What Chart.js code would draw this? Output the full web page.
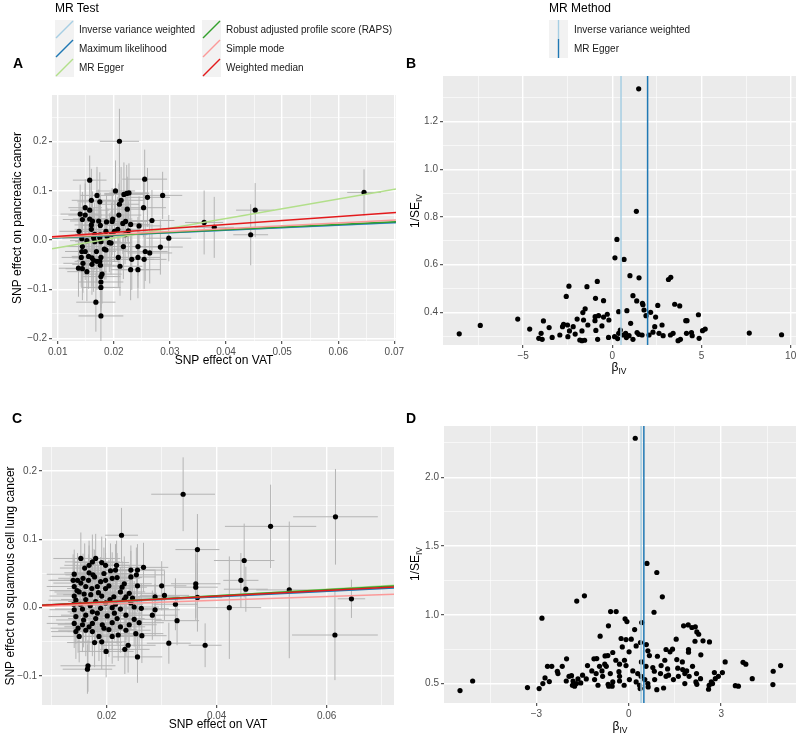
<!DOCTYPE html>
<html>
<head>
<meta charset="utf-8">
<script src="https://cdn.jsdelivr.net/npm/chart.js@4.4.1/dist/chart.umd.min.js"></script>
<style>
  body { margin: 0; background: #fff; font-family: "Liberation Sans", Arial, sans-serif; }
  #wrap { position: relative; width: 800px; height: 735px; overflow: hidden; }
  #wrap canvas { position: absolute; left: 0; top: 0; }
  .abs { position: absolute; white-space: nowrap; }
  .panel { font-weight: bold; font-size: 14px; line-height: 14px; }
  .lgTitle { font-size: 12px; line-height: 14px; color: #000; }
  .lgText { font-size: 10px; line-height: 19px; color: #1a1a1a; }
  .axTitle { font-size: 12px; color: #000; }
  .axTitle span { font-size: 8.5px; position: relative; top: 3px; }
  .rot { transform: translate(-50%, -50%) rotate(-90deg); }
  .ctr { transform: translate(-50%, -50%); }
</style>
</head>
<body>
<div id="wrap">
  <canvas id="cA" width="800" height="735"></canvas>
  <canvas id="cB" width="800" height="735"></canvas>
  <canvas id="cC" width="800" height="735"></canvas>
  <canvas id="cD" width="800" height="735"></canvas>
</div>
<script>
// MR methods shown in the scatter plots (legend order) and their colours
const methods = ['Inverse variance weighted', 'Maximum likelihood', 'MR Egger',
  'Robust adjusted profile score (RAPS)', 'Simple mode', 'Weighted median'];
const methodColors = ['#A6CEE3', '#1F78B4', '#B2DF8A', '#33A02C', '#FB9A99', '#E31A1C'];
const funnelMethods = ['Inverse variance weighted', 'MR Egger'];
const funnelColors = ['#A6CEE3', '#1F78B4'];

// A: slopes / intercepts of the fitted lines (pancreatic cancer)
const aSlope = [0.50, 0.51, 1.98, 0.53, 0.58, 0.80];
const aIntercept = [0, 0, -0.035, 0, 0, 0];
// C: slopes / intercepts (squamous cell lung cancer)
const cSlope = [0.41, 0.40, 0.48, 0.44, 0.27, 0.42];
const cIntercept = [0, 0, -0.002, 0, 0, 0];
// B / D: vertical estimate lines (IVW, MR Egger)
const bLines = [0.49, 1.98];
const dLines = [0.40, 0.49];

// A: [SNP effect on VAT, SNP effect on pancreatic cancer, se x, se y]
const aSnps = [
  [0.0210, 0.201, 0.0035, 0.066], [0.0157, 0.122, 0.0030, 0.050], [0.0255, 0.124, 0.0040, 0.060],
  [0.0203, 0.100, 0.0035, 0.062], [0.0170, 0.091, 0.0030, 0.058], [0.0160, 0.081, 0.0035, 0.064],
  [0.0175, 0.078, 0.0040, 0.060], [0.0218, 0.093, 0.0035, 0.065], [0.0223, 0.095, 0.0040, 0.058],
  [0.0227, 0.096, 0.0035, 0.060], [0.0213, 0.081, 0.0040, 0.068], [0.0210, 0.073, 0.0035, 0.062],
  [0.0260, 0.087, 0.0040, 0.060], [0.0287, 0.091, 0.0035, 0.048], [0.0253, 0.066, 0.0040, 0.060],
  [0.0224, 0.063, 0.0035, 0.066], [0.0149, 0.066, 0.0030, 0.058], [0.0157, 0.061, 0.0035, 0.062],
  [0.0140, 0.053, 0.0035, 0.060], [0.0149, 0.051, 0.0030, 0.064], [0.0144, 0.042, 0.0035, 0.056],
  [0.0157, 0.043, 0.0030, 0.066], [0.0162, 0.039, 0.0040, 0.060], [0.0173, 0.039, 0.0035, 0.064],
  [0.0187, 0.037, 0.0035, 0.058], [0.0197, 0.038, 0.0040, 0.068], [0.0198, 0.043, 0.0035, 0.060],
  [0.0209, 0.051, 0.0040, 0.064], [0.0216, 0.034, 0.0035, 0.062], [0.0221, 0.038, 0.0040, 0.058],
  [0.0230, 0.032, 0.0035, 0.066], [0.0245, 0.029, 0.0040, 0.060], [0.0268, 0.040, 0.0040, 0.062],
  [0.0160, 0.031, 0.0030, 0.060], [0.0176, 0.030, 0.0035, 0.066], [0.0138, 0.018, 0.0035, 0.058],
  [0.0160, 0.022, 0.0030, 0.064], [0.0186, 0.018, 0.0040, 0.060], [0.0201, 0.018, 0.0035, 0.062],
  [0.0207, 0.022, 0.0040, 0.066], [0.0226, 0.019, 0.0035, 0.060], [0.0166, 0.012, 0.0035, 0.064],
  [0.0176, 0.011, 0.0030, 0.058], [0.0143, 0.003, 0.0035, 0.062], [0.0164, 0.005, 0.0030, 0.060],
  [0.0175, 0.005, 0.0035, 0.066], [0.0188, 0.008, 0.0040, 0.058], [0.0196, 0.012, 0.0035, 0.064],
  [0.0220, 0.011, 0.0040, 0.060], [0.0298, 0.004, 0.0040, 0.047], [0.0152, -0.001, 0.0030, 0.062],
  [0.0166, -0.003, 0.0035, 0.058], [0.0177, -0.003, 0.0035, 0.066], [0.0192, -0.005, 0.0040, 0.060],
  [0.0195, -0.006, 0.0035, 0.064], [0.0144, -0.013, 0.0035, 0.058], [0.0183, -0.018, 0.0035, 0.062],
  [0.0186, -0.020, 0.0040, 0.060], [0.0217, -0.013, 0.0035, 0.066], [0.0243, -0.013, 0.0040, 0.060],
  [0.0283, -0.014, 0.0040, 0.056], [0.0143, -0.023, 0.0030, 0.062], [0.0149, -0.023, 0.0035, 0.058],
  [0.0169, -0.023, 0.0035, 0.064], [0.0256, -0.023, 0.0040, 0.060], [0.0264, -0.026, 0.0040, 0.062],
  [0.0142, -0.035, 0.0035, 0.060], [0.0155, -0.033, 0.0030, 0.066], [0.0161, -0.036, 0.0035, 0.058],
  [0.0177, -0.035, 0.0040, 0.064], [0.0208, -0.035, 0.0035, 0.060], [0.0243, -0.035, 0.0040, 0.062],
  [0.0145, -0.047, 0.0035, 0.060], [0.0164, -0.041, 0.0030, 0.064], [0.0175, -0.043, 0.0035, 0.058],
  [0.0232, -0.039, 0.0040, 0.062], [0.0254, -0.039, 0.0040, 0.060], [0.0137, -0.057, 0.0035, 0.058],
  [0.0144, -0.058, 0.0030, 0.064], [0.0152, -0.064, 0.0035, 0.060], [0.0161, -0.049, 0.0035, 0.062],
  [0.0170, -0.043, 0.0040, 0.058], [0.0176, -0.051, 0.0035, 0.066], [0.0211, -0.053, 0.0040, 0.060],
  [0.0230, -0.060, 0.0035, 0.062], [0.0243, -0.060, 0.0040, 0.058], [0.0179, -0.069, 0.0035, 0.060],
  [0.0177, -0.074, 0.0035, 0.064], [0.0177, -0.085, 0.0040, 0.058], [0.0177, -0.096, 0.0035, 0.060],
  [0.0168, -0.126, 0.0035, 0.060], [0.0177, -0.154, 0.0040, 0.058], [0.0361, 0.036, 0.0034, 0.065],
  [0.0379, 0.026, 0.0035, 0.062], [0.0444, 0.011, 0.0031, 0.062], [0.0452, 0.061, 0.0034, 0.055],
  [0.0646, 0.097, 0.0030, 0.047]
];

// C: [SNP effect on VAT, SNP effect on squamous cell lung cancer, se x, se y]
const cSnps = [
  [0.0227, 0.106, 0.0030, 0.040], [0.0153, 0.072, 0.0050, 0.038], [0.0168, 0.062, 0.0045, 0.036],
  [0.0174, 0.067, 0.0050, 0.040], [0.0180, 0.072, 0.0045, 0.036], [0.0191, 0.066, 0.0050, 0.038],
  [0.0198, 0.062, 0.0045, 0.040], [0.0218, 0.062, 0.0050, 0.036], [0.0216, 0.055, 0.0045, 0.038],
  [0.0207, 0.054, 0.0050, 0.040], [0.0244, 0.055, 0.0045, 0.036], [0.0256, 0.055, 0.0050, 0.038],
  [0.0267, 0.059, 0.0045, 0.036], [0.0254, 0.048, 0.0050, 0.040], [0.0244, 0.045, 0.0045, 0.038],
  [0.0141, 0.049, 0.0050, 0.036], [0.0168, 0.051, 0.0045, 0.040], [0.0175, 0.048, 0.0050, 0.038],
  [0.0157, 0.043, 0.0045, 0.036], [0.0147, 0.040, 0.0050, 0.040], [0.0139, 0.040, 0.0045, 0.038],
  [0.0189, 0.038, 0.0050, 0.036], [0.0198, 0.040, 0.0045, 0.040], [0.0210, 0.043, 0.0050, 0.038],
  [0.0219, 0.044, 0.0045, 0.036], [0.0232, 0.035, 0.0050, 0.040], [0.0256, 0.032, 0.0045, 0.038],
  [0.0300, 0.032, 0.0045, 0.036], [0.0153, 0.036, 0.0050, 0.038], [0.0162, 0.031, 0.0045, 0.036],
  [0.0141, 0.031, 0.0050, 0.040], [0.0173, 0.028, 0.0045, 0.038], [0.0183, 0.031, 0.0050, 0.036],
  [0.0198, 0.028, 0.0045, 0.040], [0.0204, 0.032, 0.0050, 0.038], [0.0225, 0.023, 0.0045, 0.036],
  [0.0241, 0.021, 0.0050, 0.040], [0.0150, 0.023, 0.0045, 0.038], [0.0159, 0.020, 0.0050, 0.036],
  [0.0141, 0.017, 0.0045, 0.040], [0.0171, 0.019, 0.0050, 0.038], [0.0191, 0.017, 0.0045, 0.036],
  [0.0213, 0.016, 0.0050, 0.040], [0.0235, 0.016, 0.0045, 0.038], [0.0247, 0.014, 0.0050, 0.036],
  [0.0288, 0.016, 0.0045, 0.038], [0.0305, 0.018, 0.0045, 0.036], [0.0144, 0.011, 0.0050, 0.040],
  [0.0162, 0.012, 0.0045, 0.038], [0.0180, 0.009, 0.0050, 0.036], [0.0198, 0.007, 0.0045, 0.040],
  [0.0216, 0.005, 0.0050, 0.038], [0.0232, 0.012, 0.0045, 0.036], [0.0244, 0.007, 0.0050, 0.040],
  [0.0325, 0.005, 0.0040, 0.038], [0.0141, -0.003, 0.0045, 0.038], [0.0156, -0.002, 0.0050, 0.036],
  [0.0174, -0.006, 0.0045, 0.040], [0.0189, -0.001, 0.0050, 0.038], [0.0210, 0.000, 0.0045, 0.036],
  [0.0225, -0.002, 0.0050, 0.040], [0.0250, 0.001, 0.0045, 0.038], [0.0263, -0.001, 0.0050, 0.036],
  [0.0288, -0.003, 0.0045, 0.038], [0.0283, -0.011, 0.0045, 0.036], [0.0144, -0.013, 0.0050, 0.040],
  [0.0162, -0.011, 0.0045, 0.038], [0.0180, -0.016, 0.0050, 0.036], [0.0201, -0.012, 0.0045, 0.040],
  [0.0219, -0.016, 0.0050, 0.038], [0.0235, -0.011, 0.0045, 0.036], [0.0250, -0.017, 0.0050, 0.040],
  [0.0259, -0.022, 0.0045, 0.038], [0.0328, -0.019, 0.0040, 0.036], [0.0141, -0.023, 0.0050, 0.036],
  [0.0156, -0.025, 0.0045, 0.040], [0.0174, -0.023, 0.0050, 0.038], [0.0192, -0.025, 0.0045, 0.036],
  [0.0210, -0.022, 0.0050, 0.040], [0.0225, -0.028, 0.0045, 0.038], [0.0241, -0.025, 0.0050, 0.036],
  [0.0144, -0.035, 0.0045, 0.040], [0.0162, -0.033, 0.0050, 0.038], [0.0174, -0.035, 0.0045, 0.036],
  [0.0204, -0.032, 0.0050, 0.040], [0.0235, -0.033, 0.0045, 0.038], [0.0253, -0.038, 0.0050, 0.036],
  [0.0264, -0.041, 0.0045, 0.040], [0.0150, -0.042, 0.0050, 0.038], [0.0186, -0.042, 0.0045, 0.036],
  [0.0210, -0.042, 0.0050, 0.040], [0.0221, -0.040, 0.0045, 0.038], [0.0178, -0.051, 0.0050, 0.036],
  [0.0191, -0.050, 0.0045, 0.040], [0.0199, -0.064, 0.0050, 0.038], [0.0233, -0.061, 0.0045, 0.036],
  [0.0239, -0.055, 0.0050, 0.040], [0.0256, -0.072, 0.0045, 0.038], [0.0313, -0.052, 0.0040, 0.030],
  [0.0166, -0.085, 0.0050, 0.038], [0.0165, -0.090, 0.0045, 0.036], [0.0146, 0.025, 0.0050, 0.038],
  [0.0152, 0.005, 0.0045, 0.036], [0.0158, -0.018, 0.0050, 0.040], [0.0167, 0.040, 0.0045, 0.038],
  [0.0170, 0.003, 0.0050, 0.036], [0.0185, 0.022, 0.0045, 0.040], [0.0195, -0.030, 0.0050, 0.038],
  [0.0168, -0.028, 0.0045, 0.036], [0.0183, -0.008, 0.0050, 0.040], [0.0206, 0.012, 0.0045, 0.038],
  [0.0148, -0.030, 0.0050, 0.036], [0.0178, 0.045, 0.0045, 0.040], [0.0195, 0.050, 0.0050, 0.038],
  [0.0160, 0.058, 0.0045, 0.036], [0.0214, -0.008, 0.0050, 0.040], [0.0228, 0.030, 0.0045, 0.038],
  [0.0140, 0.005, 0.0050, 0.036],
  [0.0339, 0.166, 0.0058, 0.054], [0.0365, 0.085, 0.0040, 0.052], [0.0362, 0.035, 0.0045, 0.050],
  [0.0362, 0.030, 0.0040, 0.048], [0.0365, 0.015, 0.0045, 0.050], [0.0379, -0.055, 0.0030, 0.032],
  [0.0423, 0.000, 0.0058, 0.075], [0.0444, 0.040, 0.0032, 0.040], [0.0450, 0.069, 0.0055, 0.054],
  [0.0453, 0.027, 0.0040, 0.033], [0.0498, 0.119, 0.0083, 0.061], [0.0532, 0.026, 0.0060, 0.100],
  [0.0616, 0.133, 0.0077, 0.070], [0.0615, -0.040, 0.0078, 0.066], [0.0645, 0.013, 0.0025, 0.028]
];

// B: [beta IV, 1/SE IV] (pancreatic cancer)
const bFunnel = [
  [1.48, 1.338], [1.35, 0.824], [0.26, 0.706], [0.15, 0.629], [0.66, 0.622], [0.99, 0.554],
  [1.50, 0.545], [-0.84, 0.530], [-2.43, 0.510], [-1.42, 0.508], [3.15, 0.538], [3.28, 0.547],
  [-2.58, 0.467], [-0.94, 0.459], [-0.49, 0.449], [1.16, 0.470], [1.37, 0.448], [1.69, 0.438],
  [1.72, 0.432], [2.55, 0.429], [3.50, 0.434], [3.78, 0.427], [1.78, 0.410], [0.82, 0.407],
  [0.36, 0.403], [1.89, 0.386], [2.15, 0.400], [2.43, 0.380], [-1.52, 0.415], [-1.65, 0.399],
  [-0.28, 0.392], [-0.77, 0.386], [-0.96, 0.382], [-0.49, 0.380], [-0.19, 0.368], [-0.97, 0.365],
  [-1.61, 0.368], [-1.97, 0.372], [-1.37, 0.347], [-2.73, 0.350], [-2.79, 0.340], [-2.51, 0.347],
  [-2.19, 0.340], [-3.86, 0.364], [-5.30, 0.372], [-7.40, 0.345], [-8.58, 0.310], [-4.63, 0.330],
  [-3.54, 0.336], [-3.37, 0.295], [-3.99, 0.312], [-2.94, 0.305], [-4.12, 0.291], [-3.93, 0.287],
  [-2.49, 0.298], [-2.40, 0.322], [-2.08, 0.309], [-1.70, 0.322], [-1.70, 0.281], [-1.55, 0.283],
  [-1.82, 0.284], [-0.82, 0.287], [-0.92, 0.324], [-0.58, 0.343], [-0.21, 0.295], [0.13, 0.298],
  [0.30, 0.290], [0.36, 0.312], [0.45, 0.326], [0.60, 0.305], [0.75, 0.312], [0.79, 0.294],
  [0.94, 0.302], [1.16, 0.287], [1.03, 0.354], [1.39, 0.315], [1.67, 0.305], [2.06, 0.305],
  [2.28, 0.317], [2.38, 0.340], [2.79, 0.347], [2.62, 0.312], [2.85, 0.302], [3.26, 0.305],
  [3.41, 0.312], [3.69, 0.281], [3.82, 0.287], [4.12, 0.365], [4.19, 0.365], [4.16, 0.312],
  [4.44, 0.315], [4.48, 0.302], [4.83, 0.390], [4.87, 0.291], [5.06, 0.323], [5.21, 0.330],
  [7.68, 0.313], [9.49, 0.306], [1.48, 0.308]
];

// D: [beta IV, 1/SE IV] (squamous cell lung cancer)
const dFunnel = [
  [0.21, 2.284], [0.59, 1.374], [0.91, 1.308], [1.09, 1.131], [-1.44, 1.138], [-1.69, 1.100],
  [0.82, 1.019], [-0.59, 1.024], [-0.41, 1.024], [-2.82, 0.976], [-0.12, 0.971], [-0.06, 0.951],
  [0.42, 0.944], [-0.66, 0.920], [1.78, 0.920], [1.93, 0.927], [2.05, 0.908], [2.16, 0.913],
  [0.19, 0.893], [2.21, 0.876], [2.27, 0.859], [-0.93, 0.845], [-0.25, 0.828], [-0.09, 0.820],
  [0.08, 0.823], [1.54, 0.823], [2.15, 0.808], [2.41, 0.811], [2.62, 0.803], [0.38, 0.799],
  [0.57, 0.784], [0.24, 0.774], [-0.21, 0.767], [1.94, 0.748], [1.94, 0.728], [1.21, 0.748],
  [1.34, 0.731], [1.42, 0.750], [-0.52, 0.726], [0.01, 0.731], [0.62, 0.738], [2.34, 0.709],
  [-0.68, 0.704], [0.67, 0.704], [0.93, 0.699], [-0.77, 0.701], [-1.04, 0.682], [-1.13, 0.680],
  [-2.02, 0.680], [-0.42, 0.670], [-0.14, 0.670], [1.56, 0.675], [1.17, 0.670], [1.74, 0.658],
  [0.41, 0.658], [3.13, 0.658], [3.71, 0.655], [3.80, 0.641], [-0.78, 0.641], [-0.30, 0.641],
  [-0.95, 0.626], [-0.73, 0.626], [-0.09, 0.631], [-2.64, 0.626], [-2.50, 0.626], [-2.16, 0.626],
  [-1.34, 0.631], [4.93, 0.631], [0.56, 0.626], [0.78, 0.617], [1.05, 0.631], [2.07, 0.626],
  [1.26, 0.607], [1.59, 0.612], [1.75, 0.602], [1.88, 0.592], [-2.32, 0.590], [-1.20, 0.592],
  [-0.87, 0.592], [-0.32, 0.587], [0.13, 0.592], [0.83, 0.590], [4.69, 0.590], [2.78, 0.580],
  [3.04, 0.580], [-2.30, 0.573], [-1.06, 0.573], [-0.60, 0.573], [0.29, 0.573], [1.03, 0.573],
  [1.82, 0.573], [2.20, 0.573], [-1.50, 0.561], [-1.94, 0.553], [-1.86, 0.558], [-0.85, 0.553],
  [-0.30, 0.553], [0.40, 0.553], [1.21, 0.553], [1.61, 0.553], [1.96, 0.553], [-2.72, 0.541],
  [4.01, 0.536], [-1.65, 0.534], [-1.38, 0.534], [2.33, 0.536], [2.81, 0.536], [2.91, 0.553],
  [-2.03, 0.519], [-1.81, 0.519], [-1.11, 0.529], [0.02, 0.529], [0.52, 0.529], [0.84, 0.529],
  [1.45, 0.529], [-5.07, 0.519], [-2.58, 0.515], [-0.52, 0.512], [-0.30, 0.519], [0.24, 0.512],
  [2.18, 0.512], [2.68, 0.512], [-1.56, 0.505], [-1.70, 0.500], [-0.67, 0.495], [0.62, 0.500],
  [2.72, 0.500], [-2.79, 0.500], [-1.83, 0.488], [-1.00, 0.488], [-0.15, 0.488], [0.35, 0.488],
  [1.82, 0.500], [2.21, 0.495], [4.68, 0.493], [3.46, 0.485], [3.56, 0.481], [-0.54, 0.481],
  [0.63, 0.476], [-1.76, 0.481], [-0.65, 0.481], [2.61, 0.488], [-3.29, 0.471], [-2.91, 0.464],
  [1.13, 0.468], [0.91, 0.456], [2.59, 0.459], [-5.48, 0.449], [1.29, 0.561], [0.37, 0.464]
];

// tick values (major labelled, minor unlabelled) per panel
const aXTicks = [0.01, 0.02, 0.03, 0.04, 0.05, 0.06, 0.07];
const aXLabels = ['0.01', '0.02', '0.03', '0.04', '0.05', '0.06', '0.07'];
const aXMinor = [0.015, 0.025, 0.035, 0.045, 0.055, 0.065];
const aYTicks = [-0.2, -0.1, 0, 0.1, 0.2];
const aYLabels = ['\u22120.2', '\u22120.1', '0.0', '0.1', '0.2'];
const aYMinor = [-0.15, -0.05, 0.05, 0.15, 0.25];
const bXTicks = [-5, 0, 5, 10];
const bXLabels = ['\u22125', '0', '5', '10'];
const bXMinor = [-7.5, -2.5, 2.5, 7.5];
const bYTicks = [0.4, 0.6, 0.8, 1.0, 1.2];
const bYLabels = ['0.4', '0.6', '0.8', '1.0', '1.2'];
const bYMinor = [0.3, 0.5, 0.7, 0.9, 1.1, 1.3];
const cXTicks = [0.02, 0.04, 0.06];
const cXLabels = ['0.02', '0.04', '0.06'];
const cXMinor = [0.01, 0.03, 0.05, 0.07];
const cYTicks = [-0.1, 0, 0.1, 0.2];
const cYLabels = ['\u22120.1', '0.0', '0.1', '0.2'];
const cYMinor = [-0.05, 0.05, 0.15];
const dXTicks = [-3, 0, 3];
const dXLabels = ['\u22123', '0', '3'];
const dXMinor = [-4.5, -1.5, 1.5, 4.5];
const dYTicks = [0.5, 1.0, 1.5, 2.0];
const dYLabels = ['0.5', '1.0', '1.5', '2.0'];
const dYMinor = [0.75, 1.25, 1.75, 2.25];

const FONT = '"Liberation Sans", Arial, sans-serif';

// axis with ggplot look: white major/minor grid, small outer ticks on majors only
function makeAxis(min, max, major, labels, minor, isX, size, title) {
  return {
    type: 'linear', min: min, max: max,
    afterBuildTicks: s => {
      s.ticks = major.map(v => ({ value: v, mj: true }))
        .concat(minor.map(v => ({ value: v, mj: false })))
        .sort((p, q) => p.value - q.value);
    },
    afterFit: s => {
      if (isX) { s.height = size; s.paddingLeft = 0; s.paddingRight = 0; }
      else { s.width = size; s.paddingTop = 0; s.paddingBottom = 0; }
    },
    ticks: {
      autoSkip: false, maxRotation: 0, minRotation: 0, padding: 2,
      color: '#4D4D4D', font: { family: FONT, size: 10 },
      callback: (v, i, ts) => ts[i].mj ? labels[major.indexOf(v)] : ''
    },
    grid: {
      color: '#FFFFFF',
      lineWidth: c => (c.tick && c.tick.mj) ? 1.4 : 0.6,
      drawTicks: true, tickLength: 3, tickWidth: 1,
      tickColor: c => (c.tick && c.tick.mj) ? '#333333' : 'rgba(0,0,0,0)'
    },
    border: { display: false },
    title: title ? { display: true, text: title, color: '#000', font: { family: FONT, size: 12 }, padding: 0 }
                 : { display: false }
  };
}

const panelBg = {
  id: 'panelBg',
  beforeDraw(chart) {
    const a = chart.chartArea, ctx = chart.ctx;
    ctx.save();
    ctx.fillStyle = '#EBEBEB';
    ctx.fillRect(a.left, a.top, a.right - a.left, a.bottom - a.top);
    ctx.restore();
  }
};

function errorBars(rows) {
  return {
    id: 'errorBars',
    beforeDatasetsDraw(chart) {
      const { ctx, chartArea: a } = chart;
      const x = chart.scales.x, y = chart.scales.y;
      ctx.save();
      ctx.beginPath();
      ctx.rect(a.left, a.top, a.right - a.left, a.bottom - a.top);
      ctx.clip();
      ctx.strokeStyle = '#B4B4B4';
      ctx.lineWidth = 1;
      ctx.beginPath();
      rows.forEach(([bx, by, sx, sy]) => {
        const px = x.getPixelForValue(bx), py = y.getPixelForValue(by);
        ctx.moveTo(x.getPixelForValue(bx - sx), py);
        ctx.lineTo(x.getPixelForValue(bx + sx), py);
        ctx.moveTo(px, y.getPixelForValue(by - sy));
        ctx.lineTo(px, y.getPixelForValue(by + sy));
      });
      ctx.stroke();
      ctx.restore();
    }
  };
}

function pointsSet(rows) {
  return {
    type: 'scatter', data: rows.map(r => ({ x: r[0], y: r[1] })),
    pointRadius: 2.6, pointBackgroundColor: '#000', pointBorderWidth: 0, order: 20
  };
}

function ablines(slopes, intercepts, x0, x1) {
  return slopes.map((b, i) => ({
    type: 'line',
    data: [{ x: x0, y: intercepts[i] + b * x0 }, { x: x1, y: intercepts[i] + b * x1 }],
    borderColor: methodColors[i], borderWidth: 1.5, pointRadius: 0, fill: false,
    order: 10 - i
  }));
}

function vlines(vals, y0, y1) {
  return vals.map((v, i) => ({
    type: 'line', data: [{ x: v, y: y0 }, { x: v, y: y1 }],
    borderColor: funnelColors[i], borderWidth: 1.5, pointRadius: 0, fill: false, order: 5 - i
  }));
}

// p: plot box in page px; yW / xH: reserved axis sizes
function panel(id, p, yW, xH, xAxis, yAxis, datasets, plugins) {
  new Chart(document.getElementById(id), {
    type: 'scatter',
    data: { datasets: datasets },
    options: {
      responsive: false, animation: false, events: [],
      layout: { padding: { left: p.l - yW, top: p.t, right: 800 - p.r, bottom: 735 - p.b - xH } },
      plugins: { legend: { display: false }, tooltip: { enabled: false } },
      scales: { x: xAxis, y: yAxis }
    },
    plugins: [panelBg].concat(plugins)
  });
}

// A
const aX = [0.00898, 0.0703], aY = [-0.2049, 0.295];
panel('cA', { l: 52, t: 95, r: 396, b: 341 }, 42, 27,
  makeAxis(aX[0], aX[1], aXTicks, aXLabels, aXMinor, true, 27, 'SNP effect on VAT'),
  makeAxis(aY[0], aY[1], aYTicks, aYLabels, aYMinor, false, 42, 'SNP effect on pancreatic cancer'),
  [pointsSet(aSnps)].concat(ablines(aSlope, aIntercept, aX[0], aX[1])),
  [errorBars(aSnps)]);

// B
const bX = [-9.49, 10.30], bY = [0.263, 1.392];
panel('cB', { l: 443, t: 76, r: 796, b: 345 }, 30, 20,
  makeAxis(bX[0], bX[1], bXTicks, bXLabels, bXMinor, true, 20, null),
  makeAxis(bY[0], bY[1], bYTicks, bYLabels, bYMinor, false, 30, null),
  [pointsSet(bFunnel)].concat(vlines(bLines, bY[0], bY[1])), []);

// C
const cX = [0.00824, 0.07224], cY = [-0.1424, 0.2351];
panel('cC', { l: 42, t: 447, r: 394, b: 705 }, 39, 27,
  makeAxis(cX[0], cX[1], cXTicks, cXLabels, cXMinor, true, 27, 'SNP effect on VAT'),
  makeAxis(cY[0], cY[1], cYTicks, cYLabels, cYMinor, false, 39, 'SNP effect on squamous cell lung cancer'),
  [pointsSet(cSnps)].concat(ablines(cSlope, cIntercept, cX[0], cX[1])),
  [errorBars(cSnps)]);

// D
const dX = [-6.00, 5.43], dY = [0.359, 2.373];
panel('cD', { l: 444, t: 426, r: 797, b: 703 }, 30, 20,
  makeAxis(dX[0], dX[1], dXTicks, dXLabels, dXMinor, true, 20, null),
  makeAxis(dY[0], dY[1], dYTicks, dYLabels, dYMinor, false, 30, null),
  [pointsSet(dFunnel)].concat(vlines(dLines, dY[0], dY[1])), []);

// ---- html overlays: legends, panel letters, subscripted axis titles ----
const wrap = document.getElementById('wrap');
function add(html, cls, left, top) {
  const d = document.createElement('div');
  d.className = 'abs ' + cls;
  d.style.left = left + 'px';
  d.style.top = top + 'px';
  d.innerHTML = html;
  wrap.appendChild(d);
  return d;
}
function keySvg(color, vertical) {
  const line = vertical
    ? `<line x1="9.5" y1="0" x2="9.5" y2="19" stroke="${color}" stroke-width="1.4"/>`
    : `<line x1="1" y1="18" x2="18" y2="1" stroke="${color}" stroke-width="1.4"/>`;
  return `<svg width="19" height="19"><rect width="19" height="19" fill="#F2F2F2"/>${line}</svg>`;
}

add('MR Test', 'lgTitle', 55, 1);
methods.forEach((m, i) => {
  const col = Math.floor(i / 3), row = i % 3;
  const kx = col === 0 ? 55 : 202, ky = 20 + row * 19;
  add(keySvg(methodColors[i], false), '', kx, ky);
  add(m, 'lgText', kx + 24, ky);
});
add('MR Method', 'lgTitle', 549, 1);
funnelMethods.forEach((m, i) => {
  const ky = 20 + i * 19;
  add(keySvg(funnelColors[i], true), '', 549, ky);
  add(m, 'lgText', 574, ky);
});

add('A', 'panel', 13, 56);
add('B', 'panel', 406, 56);
add('C', 'panel', 12, 411);
add('D', 'panel', 406, 411);

add('\u03B2<span>IV</span>', 'axTitle ctr', 619, 367);
add('\u03B2<span>IV</span>', 'axTitle ctr', 620, 726);
add('1/SE<span>IV</span>', 'axTitle rot', 415, 211);
add('1/SE<span>IV</span>', 'axTitle rot', 415, 564);
</script>
</body>
</html>
